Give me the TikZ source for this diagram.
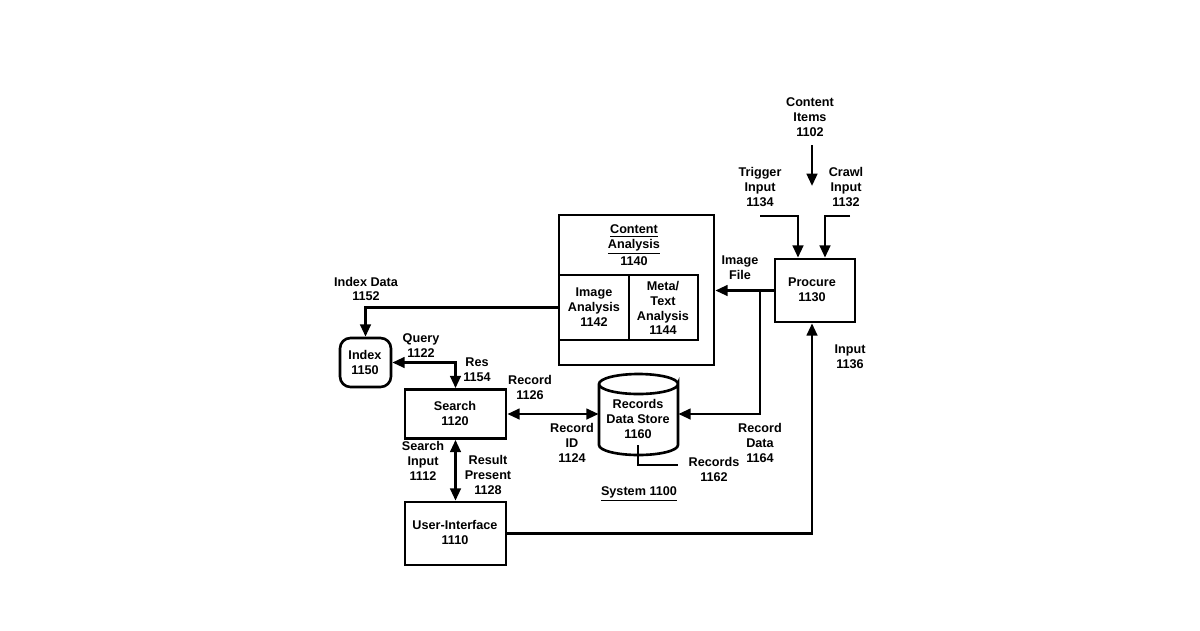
\documentclass[tikz,border=0pt]{standalone}
\usepackage{fontspec}
\setmainfont{Liberation Sans}
\usetikzlibrary{arrows.meta}
\tikzset{
    box/.style={draw, line width=1.5pt, inner sep=0pt},
    lbl/.style={font=\bfseries\fontsize{7.2}{8.5}\selectfont, align=center},
    wire/.style={line width=1.5pt},
    arr/.style={wire, -{Triangle[length=7pt,width=6pt]}},
    darr/.style={wire, {Triangle[length=7pt,width=6pt]}-{Triangle[length=7pt,width=6pt]}}
}
\begin{document}
\begin{tikzpicture}[x=0.02cm, y=-0.02cm]
    \useasboundingbox (0, 0) rectangle (1200, 630);
    % boxes
    \node[box, minimum width=155*0.02cm, minimum height=150*0.02cm] (ca) at(636.5, 290) {};
    \node[box, minimum width=70*0.02cm, minimum height=65*0.02cm] (ia) at(594, 307.5) {};
    \node[box, minimum width=69*0.02cm, minimum height=65*0.02cm] (ta) at(663.5, 307.5) {};
    \node[box, minimum width=80*0.02cm, minimum height=63*0.02cm] (pr) at(815, 290.5) {};
    \node[box, minimum width=101*0.02cm, minimum height=49*0.02cm] (se) at(455.5, 414) {};
    \node[box, minimum width=101*0.02cm, minimum height=63*0.02cm] (ui) at(455.5, 533.5) {};
    \node[box, rounded corners=6pt, minimum width=51*0.02cm, minimum height=49*0.02cm] (ix) at(365.5, 362.5) {};
    % records data store
    \node[inner sep=0pt, minimum width=79*0.02cm, minimum height=80*0.02cm] (db) at(638.5, 414) {};
    \draw[wire] (599, 384) -- (599, 445) arc[x radius=39.5, y radius=10, start angle=180, end angle=0]
        -- (678, 384) arc[x radius=39.5, y radius=10, start angle=0, end angle=360];
    % texts
    \node[lbl] at(634, 245) {\underline{Content}\\\underline{Analysis}\\1140};
    \node[lbl] at(594, 307) {Image\\Analysis\\1142};
    \node[lbl] at(663, 308) {Meta/\\Text\\Analysis\\1144};
    \node[lbl] at(812, 290) {Procure\\1130};
    \node[lbl] at(455, 413) {Search\\1120};
    \node[lbl] at(455, 532) {User-Interface\\1110};
    \node[lbl] at(365, 362) {Index\\1150};
    \node[lbl] at(638, 419) {Records\\Data Store\\1160};
    \node[lbl] at(810, 117) {Content\\Items\\1102};
    \node[lbl] at(760, 187) {Trigger\\Input\\1134};
    \node[lbl] at(846, 187) {Crawl\\Input\\1132};
    \node[lbl] at(740, 268) {Image\\File};
    \node[lbl] at(850, 357) {Input\\1136};
    \node[lbl] at(366, 289) {Index Data\\1152};
    \node[lbl] at(421, 346) {Query\\1122};
    \node[lbl] at(477, 370) {Res\\1154};
    \node[lbl] at(530, 387) {Record\\1126};
    \node[lbl] at(572, 443) {Record\\ID\\1124};
    \node[lbl] at(760, 443) {Record\\Data\\1164};
    \node[lbl] at(714, 469) {Records\\1162};
    \node[lbl] at(423, 461) {Search\\Input\\1112};
    \node[lbl] at(488, 475) {Result\\Present\\1128};
    \node[lbl] at(639, 494) {\underline{System 1100}};
    % connectors
    \coordinate (ci) at(812, 145);
    \coordinate (ti) at(760, 216);
    \coordinate (cr) at(850, 216);
    \coordinate (br) at(760, 290);
    \coordinate (rc) at(638, 445);
    \draw[arr] (ci) -- (812, 186);
    \draw[arr] (ti) -| ([xshift=-17*0.02cm]pr.north);
    \draw[arr] (cr) -| ([xshift=10*0.02cm]pr.north);
    \draw[arr] (pr.west) -- (ca.east |- pr.west);
    \draw[arr] (br) |- (db.east);
    \draw[darr] (se.east) -- (db.west);
    \draw[arr] (ia.west) -| (ix.north);
    \draw[darr] (ix.east) -| (se.north);
    \draw[darr] (se.south) -- (ui.north);
    \draw[arr] (ui.east) -| ([xshift=-3*0.02cm]pr.south);
    \draw[wire] (rc) |- (678, 465);
\end{tikzpicture}
\end{document}
